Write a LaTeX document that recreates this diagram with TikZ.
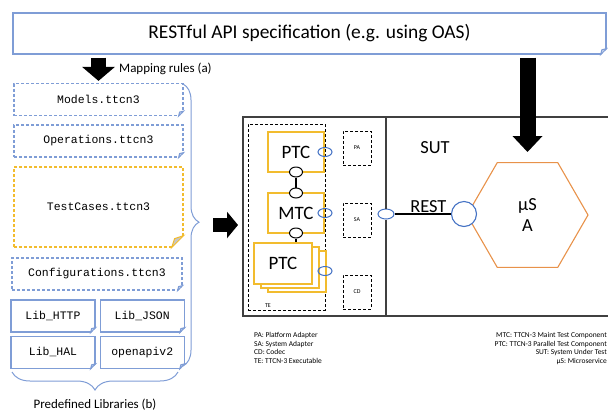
\documentclass[tikz,border=0pt]{standalone}
\usepackage{fontspec}
\setmainfont{Carlito}
\setmonofont{Liberation Mono}
\usetikzlibrary{positioning, arrows.meta, shapes.geometric, decorations.pathreplacing}

\definecolor{fileblue}{HTML}{7F9DD6}
\definecolor{caseyellow}{HTML}{F2BC2E}
\definecolor{portblue}{HTML}{4472C4}
\definecolor{hexorange}{HTML}{E8924A}
\definecolor{boxgray}{HTML}{404040}

\tikzset{
	specbox/.style={draw=fileblue, line width=1.2bp, fill=white, minimum width=593bp, minimum height=41bp, inner sep=0pt, font=\fontsize{19.5}{22}\selectfont}, % the OAS box
	filebox/.style={draw=fileblue, line width=1.2bp, dash pattern=on 3bp off 2bp, fill=white, minimum width=169bp, minimum height=32bp, inner sep=0pt, font=\ttfamily\fontsize{11.5}{13}\selectfont},
	libbox/.style={filebox, solid, minimum width=84bp},
	compbox/.style={draw=caseyellow, line width=1.1bp, fill=white, minimum width=56bp, minimum height=40bp, inner sep=0pt, font=\fontsize{19}{21}\selectfont},
	joint/.style={ellipse, draw, line width=1bp, fill=white, minimum width=13bp, minimum height=10bp, inner sep=0pt},
	port/.style={ellipse, draw=portblue, line width=1bp, minimum width=14bp, minimum height=9bp, inner sep=0pt},
	adapter/.style={draw, dash pattern=on 3bp off 2bp, line width=0.9bp, minimum width=28bp, minimum height=34bp, inner sep=0pt, font=\fontsize{6}{7}\selectfont},
	tebox/.style={draw, dash pattern=on 3bp off 2bp, line width=0.9bp, inner sep=0pt},
	sysbox/.style={draw=boxgray, line width=1.2bp, inner sep=0pt},
	link/.style={line width=1.6bp},
	hexa/.style={regular polygon, regular polygon sides=6, draw=hexorange, line width=1.1bp, minimum size=121bp, inner sep=0pt, align=center, font=\fontsize{18.5}{22}\selectfont},
	restcircle/.style={circle, draw=portblue, line width=1.1bp, fill=white, minimum size=25bp, inner sep=0pt},
	blockarrow/.style n args={3}{line width=#1, -{Triangle[length=#2, width=#3]}}, % fat black arrows
	bracestyle/.style={draw=fileblue, line width=1bp, decorate},
	labeltext/.style={font=\fontsize{13}{15}\selectfont, inner sep=0pt},
	bigtext/.style={font=\fontsize{18.5}{21}\selectfont, inner sep=0pt},
	tinytext/.style={font=\fontsize{6}{7}\selectfont, inner sep=0pt},
	legendtext/.style={font=\fontsize{7.5}{8.7}\selectfont, inner sep=0pt},
}

\begin{document}
\begin{tikzpicture}[x=1bp, y=-1bp]
	\clip (0,0) rectangle (608,411);

	% the specification everything starts from
	\node[specbox] (api) at (309.5,33.5) {RESTful API specification (e.g. using OAS)};

	%% generated TTCN-3 files
	\node[filebox] (models) at (98.5,99.5) {Models.ttcn3};
	\node[filebox] (operations) at (98.5,141) {Operations.ttcn3};
	\node[filebox, draw=caseyellow, minimum height=80bp] (testcases) at (98.5,207) {TestCases.ttcn3};
	\node[filebox, minimum width=170bp] (configurations) at (97,274) {Configurations.ttcn3};
	% libraries
	\node[libbox] (libhttp) at (53,316) {Lib\_HTTP};
	\node[libbox, right=4bp of libhttp] (libjson) {Lib\_JSON};
	\node[libbox, below=3bp of libhttp] (libhal) {Lib\_HAL};
	\node[libbox, below=3bp of libjson] (openapi) {openapiv2};

	% folded corners
	\foreach \f/\d in {api/6, models/5, operations/5, configurations/5, libhttp/5, libjson/5, libhal/5, openapi/5}{
		\fill[white] ([shift={(-\d bp,-1bp)}]\f.south east) -- ([shift={(1bp,-1bp)}]\f.south east) -- ([shift={(1bp,\d bp)}]\f.south east) -- cycle;
		\draw[fileblue, line width=1bp, fill=fileblue!45] ([xshift=-\d bp]\f.south east) -- ([shift={(-0.8*\d bp,0.8*\d bp)}]\f.south east) -- ([yshift=\d bp]\f.south east) -- cycle;
	}
	\fill[white] ([shift={(-12bp,-1bp)}]testcases.south east) -- ([shift={(1bp,-1bp)}]testcases.south east) -- ([shift={(1bp,12bp)}]testcases.south east) -- cycle;
	\draw[caseyellow, line width=1bp, fill=gray!45] ([xshift=-12bp]testcases.south east) -- ([shift={(-9bp,9bp)}]testcases.south east) -- ([yshift=12bp]testcases.south east) -- cycle;

	%% mapping
	\draw[blockarrow={15bp}{14bp}{32bp}, shorten <=3bp, shorten >=2bp] (api.south -| models.north) -- (models.north);
	\node[labeltext, anchor=west] (maplbl) at (119,69) {Mapping rules (a)};

	% braces
	\draw[bracestyle, decoration={brace, amplitude=16bp, aspect=0.49}] (183,84) -- (183,366);
	\draw[bracestyle, decoration={brace, mirror, amplitude=18bp}] (12,372) -- (178,372);
	\node[labeltext] (libslbl) at (95,405) {Predefined Libraries (b)};

	\coordinate (arrowstart) at (213,225);
	\coordinate (arrowend) at (238,225);
	\draw[blockarrow={14bp}{11bp}{26bp}] (arrowstart) -- (arrowend);

	%% test system and SUT
	\node[sysbox, minimum width=369bp, minimum height=199bp] (main) at (427.5,216.5) {};
	\node[tebox, minimum width=77bp, minimum height=186bp] (te) at (286.5,217) {};
	\node[tinytext] (telbl) at (268,305.5) {TE};

	\node[compbox] (ptctop) at (296,152) {PTC};
	\node[compbox] (mtc) at (296,213) {MTC};
	% stacked parallel components
	\node[compbox, minimum width=58bp, minimum height=41bp] (ptcback) at (297,271.5) {};
	\node[compbox, minimum width=58bp, minimum height=41bp] (ptcmid) at (290,267.5) {};
	\node[compbox, minimum width=58bp, minimum height=41bp] (ptcs) at (283,263.5) {PTC};

	\node[joint] (j1) at (296,172) {};
	\node[joint] (j2) at (296,193) {};
	\node[joint] (j3) at (296,233) {};
	\draw[link] (j1) -- (j2);
	\draw[link] (j3) -- (j3 |- ptcs.north);

	\node[port] (p1) at (325,152) {};
	\node[port] (p2) at (325,213) {};
	\node[port] (p3) at (325,271) {};

	\node[adapter] (pa) at (357,148) {PA};
	\node[adapter] (sa) at (357,220) {SA};
	\node[adapter] (cd) at (357,292) {CD};

	\node[port, minimum width=16bp, minimum height=10bp] (sutport) at (386,214) {};
	\draw[sysbox] (main.north -| sutport) -- (sutport.north);
	\draw[sysbox] (sutport.south) -- (main.south -| sutport);
	\node[bigtext] (sutlbl) at (435,148) {SUT};

	\node[hexa] (msa) at (527.5,215) {µS\\A};
	\node[restcircle] (restport) at (464,214) {};
	\draw[link] (sutport) -- node[bigtext, above=1bp, pos=0.6] (restlbl) {REST} (restport);

	\draw[blockarrow={16bp}{16bp}{29bp}, shorten <=3bp, shorten >=10bp] (api.south -| msa.north) -- (msa.north);

	%% legend
	\node[legendtext, anchor=north west, align=left] (legleft) at (254,332) {PA: Platform Adapter\\SA: System Adapter\\CD: Codec\\TE: TTCN-3 Executable};
	\node[legendtext, anchor=north east, align=right] (legright) at (607,332) {MTC: TTCN-3 Maint Test Component\\PTC: TTCN-3 Parallel Test Component\\SUT: System Under Test\\µS: Microservice};
\end{tikzpicture}
\end{document}
